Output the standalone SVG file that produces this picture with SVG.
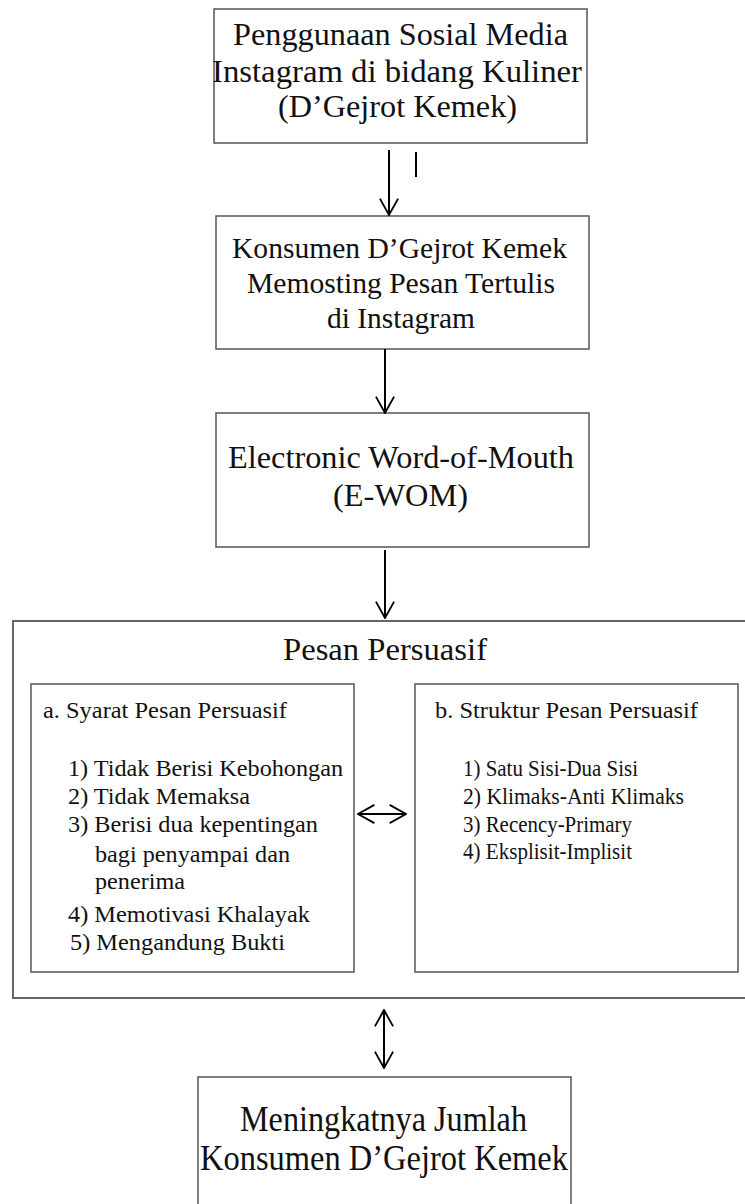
<svg xmlns="http://www.w3.org/2000/svg" width="745" height="1204" viewBox="0 0 745 1204">
<style>
.box{fill:none;stroke:#555;stroke-width:1.5}
.outer{fill:none;stroke:#666;stroke-width:2}
text{font-family:"Liberation Serif","Times New Roman",serif;fill:#111}
.t32{font-size:32px}
.t30{font-size:30px}
.t24{font-size:24px}
.t35{font-size:35px}
.con{stroke:#000;stroke-width:2;fill:none}
</style>
<defs>
<marker id="ah" viewBox="0 0 20 22" refX="19" refY="11" markerWidth="19" markerHeight="20" markerUnits="userSpaceOnUse" orient="auto-start-reverse">
<path d="M1,1 L19,11 L1,21" fill="none" stroke="#000" stroke-width="2"/>
</marker>
</defs>
<rect width="745" height="1204" fill="#fff"/>

<g id="node-penggunaan">
<rect class="box" x="214" y="9" width="373" height="134"/>
<text class="t32" x="233" y="45" textLength="335" lengthAdjust="spacingAndGlyphs">Penggunaan Sosial Media</text>
<text class="t32" x="212" y="82" textLength="370" lengthAdjust="spacingAndGlyphs">Instagram di bidang Kuliner</text>
<text class="t32" x="278" y="117" textLength="239" lengthAdjust="spacingAndGlyphs">(D’Gejrot Kemek)</text>
</g>

<g id="node-konsumen">
<rect class="box" x="216" y="216" width="373" height="133"/>
<text class="t30" x="232" y="258" textLength="335" lengthAdjust="spacingAndGlyphs">Konsumen D’Gejrot Kemek</text>
<text class="t30" x="247" y="293" textLength="308" lengthAdjust="spacingAndGlyphs">Memosting Pesan Tertulis</text>
<text class="t30" x="327" y="328" textLength="148" lengthAdjust="spacingAndGlyphs">di Instagram</text>
</g>

<g id="node-ewom">
<rect class="box" x="216" y="413" width="373" height="134"/>
<text class="t32" x="228" y="468" textLength="346" lengthAdjust="spacingAndGlyphs">Electronic Word-of-Mouth</text>
<text class="t32" x="333" y="506" textLength="135" lengthAdjust="spacingAndGlyphs">(E-WOM)</text>
</g>

<g id="node-pesan-persuasif">
<rect class="outer" x="13" y="621" width="745" height="377"/>
<text class="t32" x="283" y="660" textLength="204" lengthAdjust="spacingAndGlyphs">Pesan Persuasif</text>
</g>

<g id="node-syarat">
<rect class="box" x="31" y="684" width="323" height="288"/>
<text class="t24" x="43" y="718" textLength="244" lengthAdjust="spacingAndGlyphs">a. Syarat Pesan Persuasif</text>
<text class="t24" x="68" y="776" textLength="275" lengthAdjust="spacingAndGlyphs">1) Tidak Berisi Kebohongan</text>
<text class="t24" x="68" y="804" textLength="182" lengthAdjust="spacingAndGlyphs">2) Tidak Memaksa</text>
<text class="t24" x="68" y="832" textLength="250" lengthAdjust="spacingAndGlyphs">3) Berisi dua kepentingan</text>
<text class="t24" x="95" y="862" textLength="195" lengthAdjust="spacingAndGlyphs">bagi penyampai dan</text>
<text class="t24" x="95" y="889" textLength="90" lengthAdjust="spacingAndGlyphs">penerima</text>
<text class="t24" x="68" y="922" textLength="242" lengthAdjust="spacingAndGlyphs">4) Memotivasi Khalayak</text>
<text class="t24" x="70" y="950" textLength="215" lengthAdjust="spacingAndGlyphs">5) Mengandung Bukti</text>
</g>

<g id="node-struktur">
<rect class="box" x="415" y="684" width="323" height="288"/>
<text class="t24" x="435" y="718" textLength="263" lengthAdjust="spacingAndGlyphs">b. Struktur Pesan Persuasif</text>
<text class="t24" x="463" y="776" textLength="175" lengthAdjust="spacingAndGlyphs">1) Satu Sisi-Dua Sisi</text>
<text class="t24" x="463" y="804" textLength="221" lengthAdjust="spacingAndGlyphs">2) Klimaks-Anti Klimaks</text>
<text class="t24" x="463" y="832" textLength="169" lengthAdjust="spacingAndGlyphs">3) Recency-Primary</text>
<text class="t24" x="463" y="859" textLength="169" lengthAdjust="spacingAndGlyphs">4) Eksplisit-Implisit</text>
</g>

<g id="node-meningkatnya">
<rect class="box" x="198" y="1077" width="373" height="140"/>
<text class="t35" x="240" y="1131" textLength="287" lengthAdjust="spacingAndGlyphs">Meningkatnya Jumlah</text>
<text class="t35" x="200" y="1170" textLength="368" lengthAdjust="spacingAndGlyphs">Konsumen D’Gejrot Kemek</text>
</g>

<g id="connectors">
<line class="con" x1="389" y1="150" x2="389" y2="215" marker-end="url(#ah)"/>
<line class="con" x1="416" y1="152" x2="416" y2="177"/>
<line class="con" x1="385" y1="349" x2="385" y2="413" marker-end="url(#ah)"/>
<line class="con" x1="385" y1="550" x2="385" y2="618" marker-end="url(#ah)"/>
<line class="con" x1="358" y1="814" x2="406" y2="814" marker-start="url(#ah)" marker-end="url(#ah)"/>
<line class="con" x1="384" y1="1010" x2="384" y2="1068" marker-start="url(#ah)" marker-end="url(#ah)"/>
</g>
</svg>
